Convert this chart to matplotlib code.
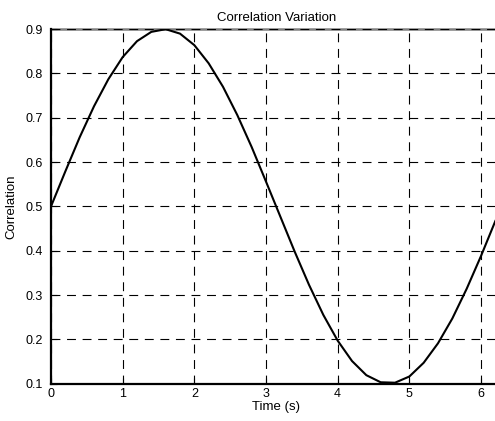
import matplotlib
matplotlib.use("Agg")
import matplotlib.pyplot as plt

time_s = [0.0, 0.2, 0.4, 0.6, 0.8, 1.0, 1.2, 1.4, 1.6, 1.8, 2.0, 2.2, 2.4, 2.6, 2.8, 3.0,
          3.2, 3.4, 3.6, 3.8, 4.0, 4.2, 4.4, 4.6, 4.8, 5.0, 5.2, 5.4, 5.6, 5.8, 6.0, 6.2]
correlation = [0.500, 0.579, 0.656, 0.726, 0.787, 0.837, 0.873, 0.894, 0.900, 0.890,
               0.864, 0.823, 0.770, 0.706, 0.634, 0.556, 0.477, 0.398, 0.323, 0.255,
               0.197, 0.151, 0.119, 0.103, 0.102, 0.116, 0.147, 0.191, 0.247, 0.314,
               0.388, 0.467]
x_ticks = [0, 1, 2, 3, 4, 5, 6]
y_ticks = [0.1, 0.2, 0.3, 0.4, 0.5, 0.6, 0.7, 0.8, 0.9]

plt.rcParams['font.family'] = ['Liberation Sans', 'DejaVu Sans']

fig = plt.figure(figsize=(4.95, 4.21), dpi=100)
# axes runs past the right edge of the picture, as in the reference
ax = fig.add_axes([51 / 495, 37.4 / 421, 450.3 / 495, 354.4 / 421])

ax.plot(time_s, correlation, color='black', linewidth=1.5, zorder=3)

ax.set_xlim(0, 6.2832)
ax.set_ylim(0.1, 0.9)
ax.set_xticks(x_ticks)
ax.set_yticks(y_ticks)
ax.set_xticklabels([str(v) for v in x_ticks])
ax.set_yticklabels(['%.1f' % v for v in y_ticks])
ax.tick_params(direction='in', length=4, width=0.8, labelsize=9, colors='black')
ax.tick_params(axis='x', pad=3)
ax.tick_params(axis='y', pad=6)

ax.set_axisbelow(False)
ax.grid(True, color='black', linestyle=(0, (8, 6)), linewidth=0.8, zorder=2.6)

for side in ('left', 'bottom'):
    ax.spines[side].set_linewidth(1.6)
ax.spines['top'].set_color('#808080')
ax.spines['top'].set_linewidth(1.8)
ax.spines['top'].set_zorder(1)
ax.spines['right'].set_visible(False)

ax.set_title('Correlation Variation', fontsize=9.5, pad=6)
ax.set_xlabel('Time (s)', fontsize=9.5, labelpad=1)
ax.set_ylabel('Correlation', fontsize=9.5, labelpad=6)

fig.savefig('out.png', dpi=100)
